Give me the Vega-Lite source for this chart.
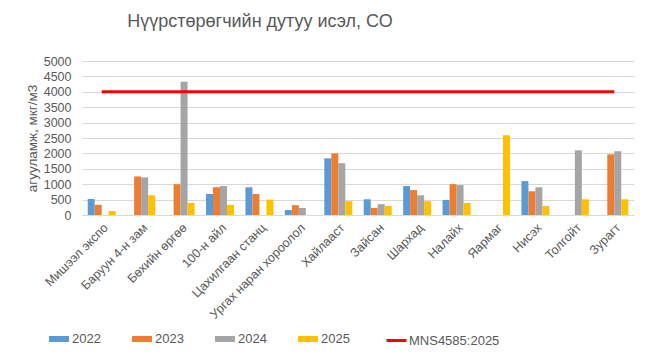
{
  "$schema": "https://vega.github.io/schema/vega-lite/v6.json",
  "width": 552,
  "height": 154,
  "autosize": {"type": "none"},
  "padding": {"left": 82, "top": 61, "right": 11, "bottom": 149},
  "background": "white",
  "title": {"text": "Нүүрстөрөгчийн дутуу исэл, СО", "anchor": "middle", "dx": -98, "offset": 24, "fontSize": 18, "font": "Liberation Sans", "fontWeight": "normal", "color": "#595959"},
  "config": {
    "view": {"stroke": null},
    "font": "Liberation Sans",
    "axis": {"labelColor": "#595959", "labelFontSize": 12, "titleColor": "#595959", "titleFontWeight": "normal", "ticks": false, "gridColor": "#D9D9D9", "domainColor": "#D9D9D9"}
  },
  "datasets": {
    "bars": [
      {"station": "Мишээл экспо", "year": "2022", "value": 520},
      {"station": "Мишээл экспо", "year": "2023", "value": 330},
      {"station": "Мишээл экспо", "year": "2025", "value": 130},
      {"station": "Баруун 4-н зам", "year": "2023", "value": 1250},
      {"station": "Баруун 4-н зам", "year": "2024", "value": 1220},
      {"station": "Баруун 4-н зам", "year": "2025", "value": 640},
      {"station": "Бөхийн өргөө", "year": "2023", "value": 1000},
      {"station": "Бөхийн өргөө", "year": "2024", "value": 4330},
      {"station": "Бөхийн өргөө", "year": "2025", "value": 390},
      {"station": "100-н айл", "year": "2022", "value": 680},
      {"station": "100-н айл", "year": "2023", "value": 900},
      {"station": "100-н айл", "year": "2024", "value": 940},
      {"station": "100-н айл", "year": "2025", "value": 330},
      {"station": "Цахилгаан станц", "year": "2022", "value": 900},
      {"station": "Цахилгаан станц", "year": "2023", "value": 680},
      {"station": "Цахилгаан станц", "year": "2025", "value": 500},
      {"station": "Ургах наран хороолол", "year": "2022", "value": 160},
      {"station": "Ургах наран хороолол", "year": "2023", "value": 320},
      {"station": "Ургах наран хороолол", "year": "2024", "value": 230},
      {"station": "Хайлааст", "year": "2022", "value": 1840},
      {"station": "Хайлааст", "year": "2023", "value": 2000},
      {"station": "Хайлааст", "year": "2024", "value": 1680},
      {"station": "Хайлааст", "year": "2025", "value": 450},
      {"station": "Зайсан", "year": "2022", "value": 510},
      {"station": "Зайсан", "year": "2023", "value": 230},
      {"station": "Зайсан", "year": "2024", "value": 350},
      {"station": "Зайсан", "year": "2025", "value": 290},
      {"station": "Шархад", "year": "2022", "value": 940},
      {"station": "Шархад", "year": "2023", "value": 810},
      {"station": "Шархад", "year": "2024", "value": 640},
      {"station": "Шархад", "year": "2025", "value": 450},
      {"station": "Налайх", "year": "2022", "value": 490},
      {"station": "Налайх", "year": "2023", "value": 1000},
      {"station": "Налайх", "year": "2024", "value": 970},
      {"station": "Налайх", "year": "2025", "value": 390},
      {"station": "Яармаг", "year": "2025", "value": 2590},
      {"station": "Нисэх", "year": "2022", "value": 1100},
      {"station": "Нисэх", "year": "2023", "value": 770},
      {"station": "Нисэх", "year": "2024", "value": 900},
      {"station": "Нисэх", "year": "2025", "value": 290},
      {"station": "Толгойт", "year": "2024", "value": 2100},
      {"station": "Толгойт", "year": "2025", "value": 510},
      {"station": "Зурагт", "year": "2023", "value": 1970},
      {"station": "Зурагт", "year": "2024", "value": 2070},
      {"station": "Зурагт", "year": "2025", "value": 510}
    ],
    "norm": [
      {"from": "Мишээл экспо", "to": "Зурагт", "value": 4000, "name": "MNS4585:2025"}
    ]
  },
  "layer": [
    {
      "data": {"name": "bars"},
      "mark": {"type": "bar"},
      "encoding": {
        "x": {"field": "station", "type": "nominal", "title": null,
          "scale": {"domain": ["Мишээл экспо", "Баруун 4-н зам", "Бөхийн өргөө", "100-н айл", "Цахилгаан станц", "Ургах наран хороолол", "Хайлааст", "Зайсан", "Шархад", "Налайх", "Яармаг", "Нисэх", "Толгойт", "Зурагт"], "paddingInner": 0.29, "paddingOuter": 0.145},
          "axis": {"labelAngle": -45, "labelPadding": 6, "domain": true, "grid": false, "labelFontSize": 12.5}},
        "xOffset": {"field": "year", "type": "nominal", "scale": {"domain": ["2022", "2023", "2024", "2025"], "paddingInner": 0, "paddingOuter": 0}},
        "y": {"field": "value", "type": "quantitative", "title": "агууламж, мкг/м3",
          "scale": {"domain": [0, 5000]},
          "axis": {"values": [0, 500, 1000, 1500, 2000, 2500, 3000, 3500, 4000, 4500, 5000], "format": "d", "domain": false, "labelPadding": 11, "titlePadding": 4, "titleFontSize": 13.5, "labelFontSize": 12.5}},
        "fill": {"field": "year", "type": "nominal",
          "scale": {"domain": ["2022", "2023", "2024", "2025"], "range": ["#5B9BD5", "#ED7D31", "#A5A5A5", "#FFC000"]},
          "legend": {"title": null, "orient": "none", "legendX": -33, "legendY": 268, "direction": "horizontal", "columns": 4, "symbolType": "M-1,-0.3H1V0.3H-1Z", "symbolSize": 400, "symbolStrokeWidth": 0, "labelFontSize": 13, "labelColor": "#595959", "labelOffset": 3, "columnPadding": 31}}
      }
    },
    {
      "data": {"name": "norm"},
      "mark": {"type": "rule", "strokeWidth": 3},
      "encoding": {
        "x": {"field": "from", "type": "nominal", "title": null},
        "x2": {"field": "to"},
        "y": {"field": "value", "type": "quantitative", "title": "агууламж, мкг/м3",
          "axis": {"values": [0, 500, 1000, 1500, 2000, 2500, 3000, 3500, 4000, 4500, 5000], "format": "d", "domain": false, "labelPadding": 11, "titlePadding": 4, "titleFontSize": 13.5, "labelFontSize": 12.5}},
        "stroke": {"field": "name", "type": "nominal",
          "scale": {"range": ["#FF0000"]},
          "legend": {"title": null, "orient": "none", "legendX": 303, "legendY": 268, "symbolType": "stroke", "symbolSize": 400, "symbolStrokeWidth": 3, "labelFontSize": 13, "labelColor": "#595959", "labelOffset": 1}}
      }
    }
  ]
}
